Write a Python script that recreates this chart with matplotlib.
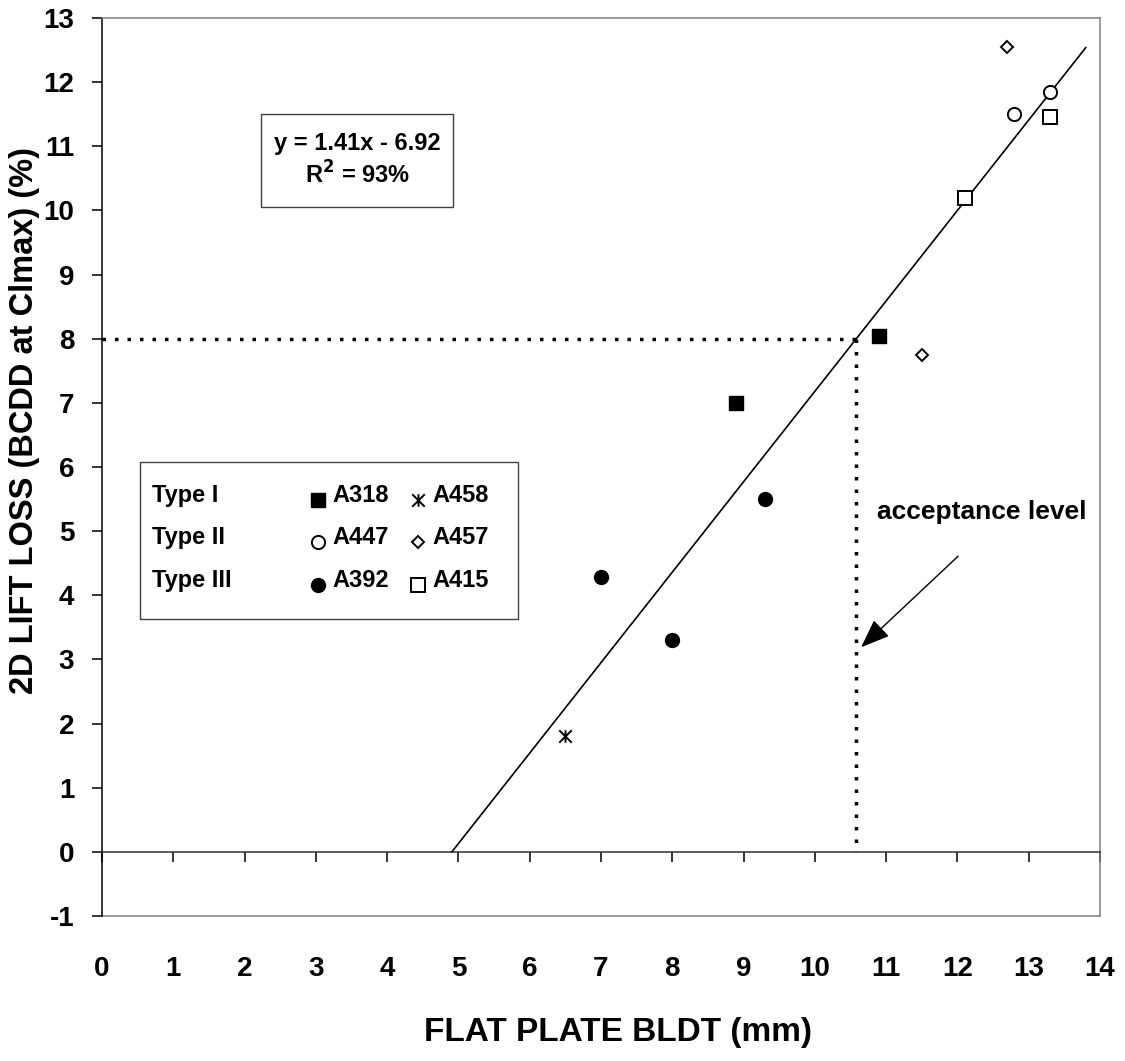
import matplotlib
matplotlib.use("Agg")
import matplotlib.pyplot as plt
from matplotlib.path import Path
from matplotlib.patches import Rectangle

plt.rcParams['font.family'] = ['Liberation Sans', 'DejaVu Sans']
plt.rcParams['font.weight'] = 'bold'
plt.rcParams['axes.unicode_minus'] = False
plt.rcParams['mathtext.default'] = 'bf'

# ---------------- data ----------------
a318_x = [8.9, 10.9];   a318_y = [7.0, 8.05]
a458_x = [6.5];         a458_y = [1.8]
a447_x = [12.8, 13.3];  a447_y = [11.5, 11.85]
a457_x = [12.7, 11.5];  a457_y = [12.55, 7.75]
a392_x = [7.0, 8.0, 9.3]; a392_y = [4.28, 3.3, 5.5]
a415_x = [12.1, 13.3];  a415_y = [10.2, 11.45]

slope, intercept = 1.41, -6.92
fit_x_end = 13.8
acceptance = 8.0

x_ticks = list(range(0, 15))
y_ticks = list(range(-1, 14))
type_labels = ["Type I", "Type II", "Type III"]

# ---------------- figure ----------------
W, H = 1125, 1061
fig = plt.figure(figsize=(W / 100, H / 100), dpi=100)
L, R, T, B = 102, 1100, 18, 916
ax = fig.add_axes([L / W, 1 - B / H, (R - L) / W, (B - T) / H])
ax.set_xlim(0, 14)
ax.set_ylim(-1, 13)

# spines
ax.spines['bottom'].set_position(('data', 0))
ax.spines['bottom'].set_color('#303030')
ax.spines['bottom'].set_linewidth(1.1)
ax.spines['left'].set_color('black')
ax.spines['left'].set_linewidth(1.1)
for s in ['top', 'right']:
    ax.spines[s].set_color('#808080')
    ax.spines[s].set_linewidth(1.1)

ax.set_xticks(x_ticks)
ax.tick_params(axis='x', direction='out', length=7, width=1.1, labelbottom=False)
ax.set_yticks(y_ticks)
ax.tick_params(axis='y', direction='out', length=7, width=1.1, pad=13, labelsize=20)

sec = ax.secondary_xaxis('bottom')
sec.set_xticks(x_ticks)
sec.tick_params(length=0, pad=29, labelsize=20)
sec.spines['bottom'].set_color('#808080')
sec.spines['bottom'].set_linewidth(1.1)

# regression line
x0 = -intercept / slope
ax.plot([x0, fit_x_end], [slope * x0 + intercept, slope * fit_x_end + intercept],
        color='black', lw=1.2, zorder=3)

# acceptance dotted lines
x_acc = (acceptance - intercept) / slope
dot = (0, (1, 2.6))
ax.plot([0, x_acc], [acceptance, acceptance], color='black', lw=2.5,
        linestyle=dot, dash_capstyle='butt', zorder=2)
ax.plot([x_acc, x_acc], [acceptance, 0], color='black', lw=2.5,
        linestyle=dot, dash_capstyle='butt', zorder=2)

# asterisk marker
star = Path([(0, -1), (0, 1), (-1, -1), (1, 1), (-1, 1), (1, -1)],
            [Path.MOVETO, Path.LINETO, Path.MOVETO, Path.LINETO, Path.MOVETO, Path.LINETO])

styles = {
    'A318': dict(marker='s', ms=10, mfc='black', mec='black', mew=1),
    'A458': dict(marker=star, ms=9, mfc='none', mec='black', mew=1.4),
    'A447': dict(marker='o', ms=9.5, mfc='white', mec='black', mew=1.4),
    'A457': dict(marker='D', ms=6.5, mfc='white', mec='black', mew=1.4),
    'A392': dict(marker='o', ms=10, mfc='black', mec='black', mew=1),
    'A415': dict(marker='s', ms=9.5, mfc='white', mec='black', mew=1.4),
}
series = {
    'A318': (a318_x, a318_y), 'A458': (a458_x, a458_y),
    'A447': (a447_x, a447_y), 'A457': (a457_x, a457_y),
    'A392': (a392_x, a392_y), 'A415': (a415_x, a415_y),
}
for k, (xs, ys) in series.items():
    ax.plot(xs, ys, linestyle='none', zorder=4, **styles[k])

# equation box
ax.add_patch(Rectangle((2.23, 10.05), 2.69, 1.45, fill=False, edgecolor='#404040', lw=1.0, zorder=5))
ax.text(3.58, 11.05, "y = 1.41x - 6.92", ha='center', va='center', fontsize=17)
ax.text(3.58, 10.55, r"R$^{\mathbf{2}}$ = 93%", ha='center', va='center', fontsize=17)

# legend box
ax.add_patch(Rectangle((0.533, 3.63), 5.30, 2.45, fill=False, edgecolor='#404040', lw=1.0, zorder=5))
row_y = [5.55, 4.895, 4.225]
col1 = ['A318', 'A447', 'A392']
col2 = ['A458', 'A457', 'A415']
for i, yy in enumerate(row_y):
    ax.text(0.70, yy, type_labels[i], ha='left', va='center', fontsize=17)
    ax.plot([3.03], [yy - 0.06], linestyle='none', clip_on=False, **styles[col1[i]])
    ax.text(3.23, yy, col1[i], ha='left', va='center', fontsize=17)
    ax.plot([4.43], [yy - 0.06], linestyle='none', clip_on=False, **styles[col2[i]])
    ax.text(4.63, yy, col2[i], ha='left', va='center', fontsize=17)

# acceptance annotation
ax.text(10.87, 5.30, "acceptance level", ha='left', va='center', fontsize=19)
ax.annotate("", xy=(10.65, 3.19), xytext=(12.01, 4.61),
            arrowprops=dict(arrowstyle='-|>,head_length=0.9,head_width=0.35',
                            mutation_scale=20, lw=1.0, color='black',
                            shrinkA=0, shrinkB=0))

# axis titles
fig.text(618 / W, 1 - 1033 / H, "FLAT PLATE BLDT (mm)", ha='center', va='center', fontsize=24)
fig.text(25 / W, 1 - 420 / H, "2D LIFT LOSS (BCDD at Clmax) (%)", ha='center', va='center',
         rotation=90, fontsize=23.5)

fig.savefig("out.png", dpi=100)
